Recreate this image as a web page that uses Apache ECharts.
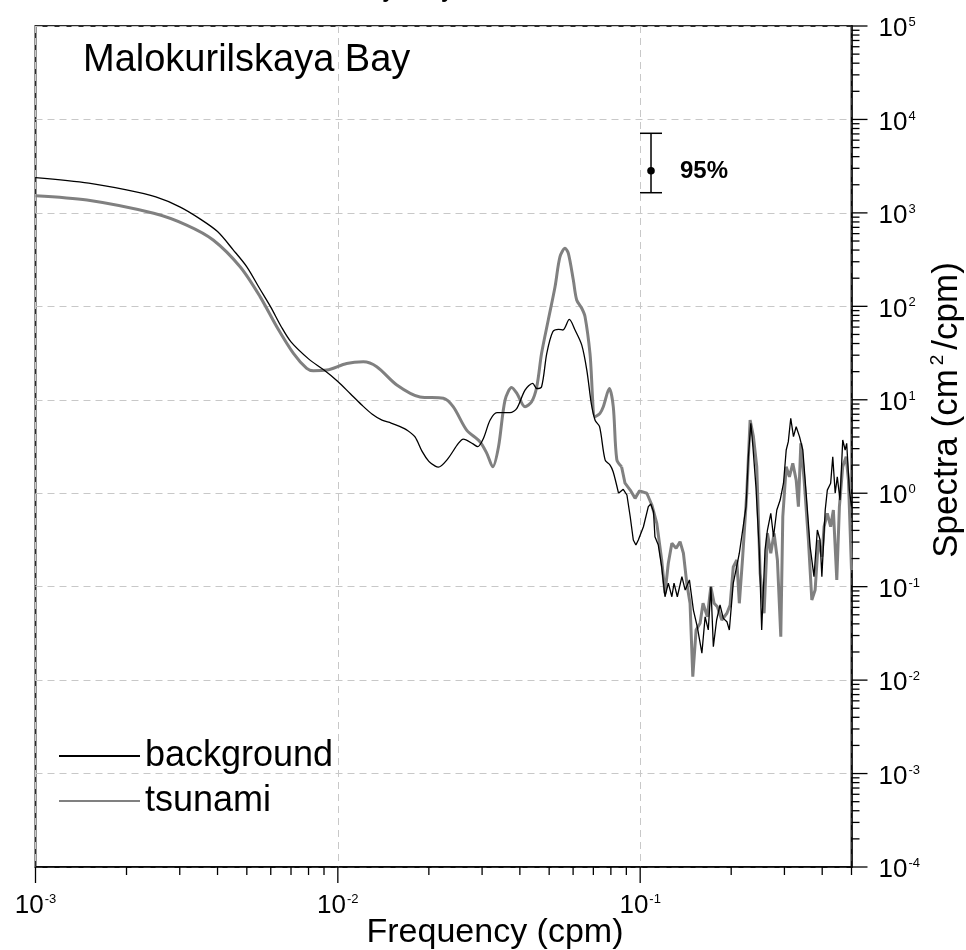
<!DOCTYPE html>
<html>
<head>
<meta charset="utf-8">
<script src="https://cdn.jsdelivr.net/npm/echarts@6/dist/echarts.min.js"></script>
<style>
  html, body { margin: 0; padding: 0; background: #fff; }
  #chart { width: 966px; height: 950px; }
</style>
</head>
<body>
<div id="chart"></div>
<script>
// Spectra of sea level at Malokurilskaya Bay: background vs tsunami record
const backgroundFreq = [
  0.001, 0.0015, 0.002, 0.0025, 0.003, 0.0035, 0.004, 0.0045, 0.005, 0.0055,
  0.006, 0.0065, 0.007, 0.008, 0.009, 0.01, 0.011, 0.012, 0.013, 0.014,
  0.015, 0.016, 0.017, 0.018, 0.019, 0.020, 0.021, 0.0215, 0.023, 0.025,
  0.026, 0.028, 0.029, 0.0303, 0.0319, 0.0336, 0.0371, 0.0391, 0.0416, 0.0441,
  0.0455, 0.0472, 0.0491, 0.0514, 0.0537, 0.0555, 0.0583, 0.0609, 0.0641, 0.0666,
  0.069, 0.071, 0.0734, 0.0766, 0.0795, 0.0814, 0.0848, 0.0859, 0.0879, 0.0904,
  0.0927, 0.0949, 0.0968, 0.0986, 0.1025, 0.1064, 0.1084, 0.1107, 0.1119, 0.1148,
  0.1178, 0.1208, 0.1239, 0.1273, 0.1294, 0.1327, 0.1374, 0.1409, 0.1455, 0.150,
  0.1545, 0.160, 0.164, 0.168, 0.1714, 0.1746, 0.179, 0.1837, 0.1884, 0.1936,
  0.1972, 0.2032, 0.2075, 0.2128, 0.2183, 0.2239, 0.228, 0.2323, 0.236, 0.2415,
  0.2477, 0.2523, 0.2588, 0.2636, 0.2704, 0.2761, 0.2831, 0.2904, 0.2979, 0.3041,
  0.309, 0.3148, 0.3214, 0.3281, 0.3365, 0.3451, 0.354, 0.3648, 0.3758, 0.3855,
  0.3936, 0.399, 0.4093, 0.4159, 0.4266, 0.4335, 0.4416, 0.4487, 0.4581, 0.4677,
  0.4764, 0.482, 0.492, 0.5
];
const backgroundSpectrum = [
  2380, 2080, 1760, 1480, 1160, 863, 631, 405, 265, 157,
  98, 60.5, 41.6, 27.4, 20.8, 15.7, 11.6, 8.8, 7.0, 6.05,
  5.64, 5.2, 4.7, 4.0, 2.8, 2.19, 1.95, 1.9, 2.29, 3.39,
  3.8, 3.37, 3.15, 3.86, 6.07, 7.28, 7.28, 8.11, 12.7, 15.0,
  13.2, 13.8, 31.4, 53.5, 56.8, 55.8, 72.6, 55.8, 38.5, 20.8,
  8.9, 6.0, 5.15, 2.26, 2.0, 1.7, 1.0, 0.957, 1.10, 0.957,
  0.56, 0.316, 0.279, 0.316, 0.438, 0.718, 0.766, 0.634, 0.342, 0.279,
  0.163, 0.078, 0.109, 0.078, 0.109, 0.078, 0.128, 0.092, 0.118, 0.0562,
  0.0372, 0.0194, 0.0476, 0.0344, 0.0998, 0.0228, 0.044, 0.0637, 0.0458, 0.0422,
  0.0344, 0.109, 0.151, 0.228, 0.404, 0.718, 2.5, 5.6, 3.15, 1.17,
  0.247, 0.0344, 0.247, 0.404, 0.61, 0.342, 0.661, 0.845, 1.28, 2.9,
  3.56, 6.34, 4.03, 5.15, 4.03, 2.9, 1.0, 0.268, 0.128, 0.404,
  0.316, 0.128, 0.661, 1.08, 1.28, 2.46, 1.0, 1.5, 0.845, 3.71,
  2.9, 3.42, 1.08, 0.718
];
const tsunamiFreq = [
  0.001, 0.00148, 0.00246, 0.00316, 0.00387, 0.00475, 0.00553, 0.00628, 0.00713, 0.00789,
  0.0083, 0.00919, 0.0107, 0.01214, 0.01345, 0.01567, 0.0187, 0.02234, 0.0241, 0.02667,
  0.02951, 0.0311, 0.03253, 0.034, 0.03573, 0.03758, 0.0391, 0.0416, 0.04375, 0.0455,
  0.0472, 0.04966, 0.05229, 0.0543, 0.05644, 0.05787, 0.0601, 0.06166, 0.06408, 0.06571,
  0.06823, 0.07096, 0.07362, 0.07551, 0.07907, 0.08147, 0.08368, 0.0868, 0.0891, 0.0927,
  0.0962, 0.0995, 0.1052, 0.1093, 0.1135, 0.1178, 0.1208, 0.1239, 0.1273, 0.1315,
  0.1355, 0.139, 0.1426, 0.1462, 0.1493, 0.1531, 0.1578, 0.1614, 0.1668, 0.1713,
  0.1756, 0.18, 0.1862, 0.1936, 0.1984, 0.2032, 0.2087, 0.2128, 0.2183, 0.2252,
  0.231, 0.2369, 0.243, 0.2493, 0.257, 0.2636, 0.2704, 0.2773, 0.2844, 0.2918,
  0.2963, 0.3041, 0.3116, 0.3197, 0.3281, 0.3337, 0.3399, 0.3486, 0.3601, 0.3696,
  0.379, 0.3886, 0.399, 0.4058, 0.4159, 0.4266, 0.4355, 0.447, 0.456, 0.4677,
  0.4799, 0.4885, 0.5
];
const tsunamiSpectrum = [
  1530, 1374, 991, 741, 513, 265, 127, 60.5, 31.4, 21.7,
  20.5, 20.8, 24.5, 25.5, 22.6, 14.4, 10.7, 10.4, 8.4, 4.74,
  3.56, 2.67, 1.92, 3.15, 9.93, 13.5, 11.7, 8.43, 9.53, 13.8,
  31.4, 71.3, 162, 340, 418, 369, 191, 117, 95.3, 77.4,
  31.4, 6.59, 7.16, 8.43, 13.2, 8.43, 2.3, 1.92, 1.28, 1.08,
  0.881, 1.06, 1.0, 0.748, 0.476, 0.193, 0.085, 0.178, 0.291, 0.257,
  0.303, 0.228, 0.109, 0.0664, 0.0109, 0.0344, 0.0406, 0.0664, 0.0476, 0.0998,
  0.0664, 0.061, 0.044, 0.0519, 0.0637, 0.163, 0.193, 0.0664, 0.209, 1.0,
  6.07, 4.03, 1.92, 0.139, 0.0519, 0.372, 0.228, 0.372, 0.193, 0.0291,
  0.56, 1.92, 1.5, 2.09, 1.38, 0.718, 3.42, 1.38, 0.316, 0.072,
  0.092, 0.316, 0.209, 0.438, 0.61, 0.438, 0.661, 0.118, 0.718, 1.92,
  2.46, 1.38, 0.151
];

// 95% confidence interval marker
const confFreq = [0.1086];
const confLevel = [2826];
const confLow = [1644];
const confHigh = [7110];
const confText = ['95%'];

// Axis extents and decade ticks
const X_MIN = 0.001, X_MAX = 0.5;
const Y_MIN = 1e-4, Y_MAX = 1e5;
const xDecades = [-3, -2, -1];
const yDecades = [-4, -3, -2, -1, 0, 1, 2, 3, 4, 5];
// below this frequency the spectra are smooth estimates, above it they are raw
const SMOOTH_LIMIT = 0.084;

const FONT = '"Liberation Sans", Arial, sans-serif';

function pairs(xs, ys) { return xs.map((x, i) => [x, ys[i]]); }

// split a spectrum into its smooth low-frequency part and the noisy tail (sharing one point)
function splitAt(data, limit) {
  let i = data.findIndex(p => p[0] >= limit);
  if (i < 0) i = data.length - 1;
  return { low: data.slice(0, i + 1), high: data.slice(i) };
}

// major / minor tick values on a base-10 log axis
function decadeTicks(decades, lo, hi) {
  const major = [], minor = [];
  decades.forEach(d => {
    const base = Math.pow(10, d);
    if (base >= lo * 0.999 && base <= hi * 1.001) major.push(base);
    for (let k = 2; k <= 9; k++) {
      const v = k * base;
      if (v >= lo * 0.999 && v <= hi * 1.001) minor.push(v);
    }
  });
  return { major, minor };
}
const xTicks = decadeTicks(xDecades, X_MIN, X_MAX);
const yTicks = decadeTicks(yDecades, Y_MIN, Y_MAX);

function powLabel(v) {
  const lg = Math.log10(v);
  const e = Math.round(lg);
  if (Math.abs(lg - e) > 1e-6) return '';
  return '{b|10}{s|' + e + '}';
}

const labelRich = {
  b: { fontFamily: FONT, fontSize: 26, color: '#000', lineHeight: 32, verticalAlign: 'bottom' },
  s: { fontFamily: FONT, fontSize: 13, color: '#000', lineHeight: 32, verticalAlign: 'bottom', padding: [0, 0, 13, 1] }
};

// tick marks drawn through the axis scales
function tickSeries(values, dir, len) {
  return {
    type: 'custom',
    silent: true,
    clip: false,
    z: 6,
    data: values.map(v => dir === 'x' ? [v, Y_MIN] : [X_MAX, v]),
    renderItem: (params, api) => {
      const p = api.coord([api.value(0), api.value(1)]);
      const shape = dir === 'x'
        ? { x1: p[0], y1: p[1], x2: p[0], y2: p[1] + len }
        : { x1: p[0], y1: p[1], x2: p[0] + len, y2: p[1] };
      return { type: 'line', shape, style: { stroke: '#000', lineWidth: 1.3 } };
    }
  };
}

const bg = splitAt(pairs(backgroundFreq, backgroundSpectrum), SMOOTH_LIMIT);
const ts = splitAt(pairs(tsunamiFreq, tsunamiSpectrum), SMOOTH_LIMIT);

function spectrumSeries(name, data, color, width, smooth, z) {
  return {
    name, type: 'line', data,
    showSymbol: false, symbol: 'none', smooth,
    lineStyle: { color, width }, itemStyle: { color }, z
  };
}

const chart = echarts.init(document.getElementById('chart'), null, { renderer: 'canvas' });

chart.setOption({
  animation: false,
  backgroundColor: '#fff',
  textStyle: { fontFamily: FONT },
  title: {
    text: 'Malokurilskaya Bay',
    left: 78, top: 37,
    textStyle: { fontFamily: FONT, fontSize: 38, fontWeight: 'normal', color: '#000' }
  },
  grid: {
    left: 35.5, right: 114.5, top: 26, bottom: 83,
    show: true, borderColor: '#2a2a2a', borderWidth: 2, backgroundColor: 'transparent'
  },
  legend: {
    data: ['background', 'tsunami'],
    orient: 'vertical',
    left: 53, top: 733,
    itemWidth: 81, itemHeight: 20, itemGap: 9,
    itemStyle: { opacity: 0 },
    textStyle: { fontFamily: FONT, fontSize: 36, color: '#000', padding: [0, 0, 0, 0] }
  },
  xAxis: {
    type: 'log', logBase: 10, min: X_MIN, max: X_MAX, splitNumber: 3,
    axisLine: { show: true, lineStyle: { color: '#000', width: 1.5 } },
    axisTick: { show: false },
    axisLabel: { margin: 20, formatter: powLabel, rich: labelRich, showMaxLabel: false },
    splitLine: { show: true, lineStyle: { color: '#c8c8c8', type: [7, 5], width: 1 } },
    minorTick: { show: false }
  },
  yAxis: {
    type: 'log', logBase: 10, min: Y_MIN, max: Y_MAX, splitNumber: 9,
    position: 'right',
    axisLine: { show: true, lineStyle: { color: '#000', width: 1.5 } },
    axisTick: { show: false },
    axisLabel: { margin: 27, formatter: powLabel, rich: labelRich, align: 'left' },
    splitLine: { show: true, lineStyle: { color: '#c8c8c8', type: [7, 5], width: 1 } }
  },
  graphic: [
    {
      type: 'text', left: 249, top: -20, silent: true,
      style: { text: 'Malokurilskaya Bay', font: 'bold 22px ' + FONT, fill: '#000' }
    },
    {
      type: 'text', silent: true,
      style: {
        x: 495, y: 933, text: 'Frequency (cpm)', align: 'center', verticalAlign: 'middle',
        font: '34px ' + FONT, fill: '#000'
      }
    },
    {
      type: 'text', silent: true, x: 947, y: 410, rotation: Math.PI / 2,
      style: {
        x: 0, y: 0, text: 'Spectra (cm{sup|2}/cpm)', align: 'center', verticalAlign: 'middle',
        font: '35px ' + FONT, fill: '#000',
        rich: { sup: { fontFamily: FONT, fontSize: 19, fill: '#000', padding: [0, 5, 18, 4] } }
      }
    }
  ],
  series: [
    spectrumSeries('tsunami', ts.low, '#808080', 3, 0.3, 3),
    spectrumSeries('tsunami', ts.high, '#808080', 3, false, 3),
    spectrumSeries('background', bg.low, '#000', 1.3, 0.3, 4),
    spectrumSeries('background', bg.high, '#000', 1.3, false, 4),
    {
      type: 'custom', silent: true, clip: false, z: 7,
      data: confFreq.map((f, i) => [f, confLevel[i], confLow[i], confHigh[i]]),
      renderItem: (params, api) => {
        const f = api.value(0);
        const mid = api.coord([f, api.value(1)]);
        const lo = api.coord([f, api.value(2)]);
        const hi = api.coord([f, api.value(3)]);
        const cap = 11;
        const st = { stroke: '#000', lineWidth: 1.5 };
        return {
          type: 'group',
          children: [
            { type: 'line', shape: { x1: mid[0], y1: hi[1], x2: mid[0], y2: lo[1] }, style: st },
            { type: 'line', shape: { x1: mid[0] - cap, y1: hi[1], x2: mid[0] + cap, y2: hi[1] }, style: st },
            { type: 'line', shape: { x1: mid[0] - cap, y1: lo[1], x2: mid[0] + cap, y2: lo[1] }, style: st },
            { type: 'circle', shape: { cx: mid[0], cy: mid[1], r: 3.8 }, style: { fill: '#000' } },
            {
              type: 'text',
              style: {
                x: mid[0] + 29, y: mid[1] + 1, text: confText[params.dataIndex],
                font: 'bold 24px ' + FONT, fill: '#000', verticalAlign: 'middle'
              }
            }
          ]
        };
      }
    },
    tickSeries(xTicks.major, 'x', 16),
    tickSeries(xTicks.minor, 'x', 8),
    tickSeries(yTicks.major, 'y', 16),
    tickSeries(yTicks.minor, 'y', 8)
  ]
});
</script>
</body>
</html>
